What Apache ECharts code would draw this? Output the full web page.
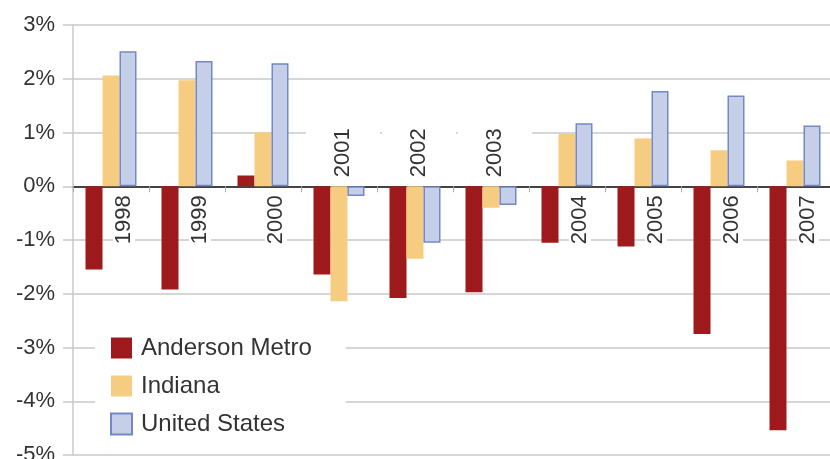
<!DOCTYPE html>
<html>
<head>
<meta charset="utf-8">
<script src="https://cdn.jsdelivr.net/npm/echarts@6/dist/echarts.min.js"></script>
<style>
  html, body { margin: 0; padding: 0; background: #fff; }
  #chart { width: 830px; height: 459px; }
</style>
</head>
<body>
<div id="chart"></div>
<script>
// categories
const years = ['1998', '1999', '2000', '2001', '2002', '2003', '2004', '2005', '2006', '2007']
// years whose label sits above the zero line
const labelsAbove = ['2001', '2002', '2003']
// annual change, percent
const anderson = [-1.55, -1.92, 0.2, -1.64, -2.08, -1.97, -1.05, -1.12, -2.75, -4.54]
const indiana = [2.06, 1.97, 1.0, -2.14, -1.35, -0.4, 0.97, 0.89, 0.67, 0.48]
const unitedStates = [2.51, 2.33, 2.29, -0.18, -1.05, -0.35, 1.17, 1.77, 1.69, 1.13]
// y axis ticks
const yMin = -5
const yMax = 3
const yStep = 1

const font = 'Liberation Sans, Arial, Helvetica, sans-serif'
const textColor = '#333'
const gridColor = '#c9c9c9'

let chart = echarts.init(document.getElementById('chart'))

// year labels sit on the zero line, so they are drawn at the axis's own zero coordinate
function renderYear (params, api) {
  let year = years[params.dataIndex]
  let above = labelsAbove.includes(year)
  let p = api.coord([year, 0])
  return {
    type: 'text',
    x: p[0] + (above ? 4 : 13),
    y: above ? p[1] - 7 : p[1] + 7,
    rotation: Math.PI / 2,
    z2: 10,
    style: {
      text: year,
      fontFamily: font,
      fontSize: 22,
      fill: textColor,
      align: above ? 'left' : 'right',
      verticalAlign: 'middle',
      backgroundColor: '#fff',
      // rotated, so top/bottom padding widens the box sideways
      padding: above ? [26, 2, 26, 2] : [0, 2]
    }
  }
}

let option = {
  animation: false,
  textStyle: { fontFamily: font },
  grid: {
    left: 73,
    top: 25,
    width: 760,
    bottom: 4,
    containLabel: false,
    outerBoundsMode: 'none'
  },
  legend: {
    orient: 'vertical',
    left: 95,
    top: 326,
    padding: [10, 34, 10, 15],
    backgroundColor: '#fff',
    icon: 'rect',
    itemWidth: 21,
    itemHeight: 21,
    itemGap: 14,
    textStyle: {
      fontFamily: font,
      fontSize: 24,
      color: textColor,
      padding: [0, 0, 0, 4]
    },
    data: ['Anderson Metro', 'Indiana', 'United States']
  },
  xAxis: {
    type: 'category',
    data: years,
    axisLine: {
      onZero: true,
      lineStyle: { color: '#444', width: 2 }
    },
    axisTick: {
      show: true,
      length: 6,
      lineStyle: { color: '#aaa', width: 1 }
    },
    axisLabel: { show: false },
    splitLine: { show: false }
  },
  yAxis: {
    type: 'value',
    min: yMin,
    max: yMax,
    interval: yStep,
    axisLine: {
      show: true,
      lineStyle: { color: gridColor, width: 1.5 }
    },
    axisTick: {
      show: true,
      length: 10,
      lineStyle: { color: gridColor, width: 1.5 }
    },
    axisLabel: {
      fontFamily: font,
      fontSize: 22,
      color: textColor,
      margin: 18,
      formatter: '{value}%'
    },
    splitLine: {
      lineStyle: { color: gridColor, width: 1.5 }
    }
  },
  series: [{
    name: 'Anderson Metro',
    type: 'bar',
    barWidth: 17,
    barGap: '0%',
    itemStyle: { color: '#9e1a1d' },
    data: anderson
  }, {
    name: 'Indiana',
    type: 'bar',
    barWidth: 17,
    barGap: '0%',
    itemStyle: { color: '#f6cd80' },
    data: indiana
  }, {
    name: 'United States',
    type: 'bar',
    barWidth: 17,
    barGap: '0%',
    itemStyle: { color: '#c5cfe8', borderColor: '#7388c4', borderWidth: 1.5 },
    data: unitedStates
  }, {
    name: 'years',
    type: 'custom',
    clip: false,
    silent: true,
    z: 3,
    renderItem: renderYear,
    data: years.map((y) => [y, 0])
  }]
}

chart.setOption(option)
</script>
</body>
</html>
